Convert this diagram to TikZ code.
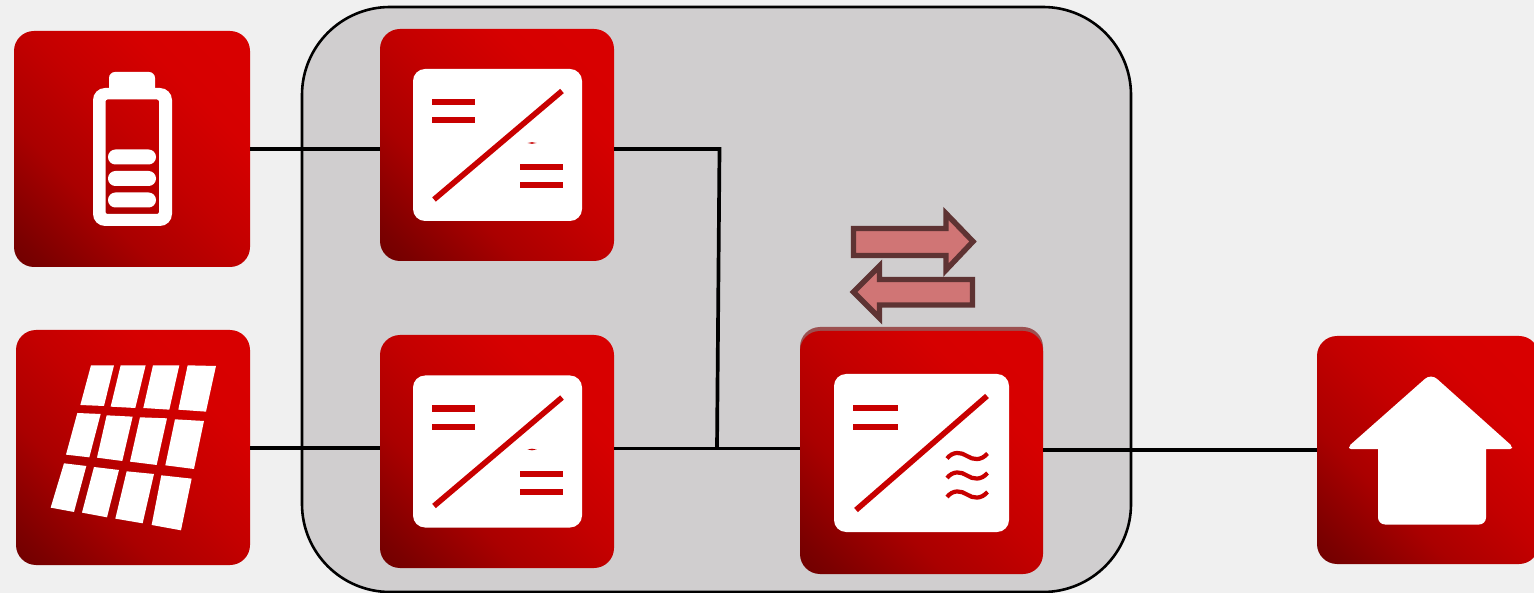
\documentclass[tikz,border=0pt]{standalone}
\usetikzlibrary{calc}
\definecolor{bgc}{HTML}{F0F0F0}
\definecolor{panelc}{HTML}{D0CECF}
\definecolor{ired}{HTML}{C80000}
\definecolor{afill}{HTML}{D07575}
\definecolor{astroke}{HTML}{5E3333}
\definecolor{topshadow}{HTML}{9C5050}
\definecolor{g0}{HTML}{640000}
\definecolor{g1}{HTML}{7C0000}
\definecolor{g2}{HTML}{AA0000}
\definecolor{g3}{HTML}{C40000}
\definecolor{g4}{HTML}{D60000}
\definecolor{g5}{HTML}{D80000}
\pgfdeclarehorizontalshading{redgrad}{100bp}{
 color(0bp)=(g0);
 color(10bp)=(g0);
 color(20bp)=(g1);
 color(36bp)=(g2);
 color(52bp)=(g3);
 color(68bp)=(g4);
 color(78bp)=(g5);
 color(100bp)=(g5)}
\tikzset{
 iconbox/.style={rectangle,rounded corners=20pt,shading=redgrad,shading angle=45,inner sep=0pt,draw=none},
 whitepanel/.style={fill=white,rounded corners=12pt,draw=none},
 glyph/.style={fill=white,draw=none},
 bar/.style={fill=ired,draw=none},
 diag/.style={draw=ired,line width=5.6pt},
 wave/.style={draw=ired,line width=4.2pt},
 wire/.style={draw=black,line width=3.7pt},
 flow/.style={fill=afill,draw=astroke,line width=5.4pt,miter limit=10}
}
\begin{document}
\begin{tikzpicture}[x=1pt,y=-1pt]
\useasboundingbox (0,0) rectangle (1534,593);
\fill[bgc] (0,0) rectangle (1534,593);
% grey enclosure
\node[rectangle,draw=black,line width=2.6pt,fill=panelc,rounded corners=88pt,minimum width=829pt,minimum height=585pt,inner sep=0pt] (enclosure) at (716.5,299.5) {};
% icon boxes
\node[iconbox,minimum width=236pt,minimum height=236pt] (battery) at (132,149) {};
\node[iconbox,minimum width=234pt,minimum height=235pt] (solar) at (133,447.5) {};
\node[iconbox,minimum width=234pt,minimum height=232pt] (dc1) at (497,145) {};
\node[iconbox,minimum width=234pt,minimum height=233pt] (dc2) at (497,451.5) {};
\fill[topshadow,rounded corners=20pt] (800,327) rectangle (1043,400);
\node[iconbox,minimum width=243pt,minimum height=243pt] (inv) at (921.5,452.5) {};
\node[iconbox,minimum width=222pt,minimum height=228pt] (house) at (1428,450) {};
% connectors
\coordinate (jtop) at (719.5,149);
\coordinate (jbot) at (717,448.5);
\draw[wire] (battery.east) -- (battery.east -| dc1.west);
\draw[wire,line join=miter] (dc1.east |- jtop) -- (jtop) -- (jbot);
\draw[wire] (solar.east |- 0,448) -- (dc2.west |- 0,448);
\draw[wire] (dc2.east |- jbot) -- (inv.west |- jbot);
\draw[wire] (inv.east |- 0,450) -- (house.west |- 0,450);
% battery glyph
\fill[glyph,rounded corners=6pt] (109,95) -- (109,72) -- (155,72) -- (155,95) -- cycle;
\fill[glyph,even odd rule] [rounded corners=12pt] (93,88) rectangle (172,226) [rounded corners=2pt] (105.5,99.5) rectangle (159,214);
\fill[glyph,rounded corners=7.4pt] (108,149.5) rectangle (156,164.5);
\fill[glyph,rounded corners=7.4pt] (108,171) rectangle (156,186);
\fill[glyph,rounded corners=7.4pt] (108,192.5) rectangle (156,207.5);
% solar glyph
\begin{scope}[shift={(0,310)},x=0.3333pt,y=-0.3333pt]
\foreach \a/\b/\c/\d in {
 {273,166}/{342,166}/{312,288}/{241,285},
 {362,166}/{437,166}/{406,294}/{332,290},
 {459,166}/{538,166}/{508,299}/{430,294},
 {563,166}/{648,168}/{618,305}/{535,299},
 {232,309}/{302,312}/{268,442}/{198,434},
 {320,316}/{398,320}/{367,453}/{291,443},
 {420,322}/{501,325}/{470,465}/{390,455},
 {525,328}/{612,333}/{582,477}/{496,466},
 {192,460}/{259,468}/{222,606}/{152,593},
 {282,471}/{357,480}/{321,622}/{246,608},
 {380,484}/{462,492}/{428,640}/{346,626},
 {484,496}/{575,506}/{543,661}/{455,645}}
 \fill[glyph] (\a) -- (\b) -- (\c) -- (\d) -- cycle;
\end{scope}
% converter 1
\fill[whitepanel] (413,69) rectangle (582,221);
\fill[bar] (432,99) rectangle (475,105);
\fill[bar] (432,117) rectangle (475,123);
\draw[diag] (434,199.5) -- (562,91);
\fill[bar] (520,164) rectangle (563,170);
\fill[bar] (520,182.5) rectangle (563,188.5);
\fill[bar] (527.5,143) -- (532,142.2) -- (536.5,143) -- (532,143.8) -- cycle;
% converter 2
\begin{scope}[shift={(0,306.5)}]
\fill[whitepanel] (413,69) rectangle (582,221);
\fill[bar] (432,99) rectangle (475,105);
\fill[bar] (432,117) rectangle (475,123);
\draw[diag] (434,199.5) -- (562,91);
\fill[bar] (520,164) rectangle (563,170);
\fill[bar] (520,182.5) rectangle (563,188.5);
\fill[bar] (527.5,143) -- (532,142.2) -- (536.5,143) -- (532,143.8) -- cycle;
\end{scope}
% inverter
\fill[whitepanel] (834,374) rectangle (1009,532);
\fill[bar] (853,405) rectangle (898,410.5);
\fill[bar] (853,424) rectangle (898,429.5);
\draw[diag] (856,510) -- (987,396);
\foreach \yy in {456,475.5,494.5}
 \draw[wave] (947,\yy+2.5) .. controls (953,\yy-5) and (961,\yy-4) .. (967,\yy)
   .. controls (973,\yy+4) and (981,\yy+5) .. (987.5,\yy-2.5);
% flow arrows
\draw[flow] (853.5,228.5) -- (946,228.5) -- (946,213.5) -- (973,241.5) -- (946,270) -- (946,255.5) -- (853.5,255.5) -- cycle;
\draw[flow] (972.5,279.5) -- (879.5,279.5) -- (879.5,266) -- (853.5,292) -- (879.5,318) -- (879.5,305) -- (972.5,305) -- cycle;
% house glyph
\fill[glyph] (1378,449) [rounded corners=2pt] -- (1349,449) -- (1349,446) [rounded corners=8pt] -- (1431,373.5) [rounded corners=2pt] -- (1512,446) -- (1512,449) [sharp corners] -- (1486,449) [rounded corners=7pt] -- (1486,524.5) -- (1378,524.5) [sharp corners] -- (1378,449) -- cycle;
\end{tikzpicture}
\end{document}
